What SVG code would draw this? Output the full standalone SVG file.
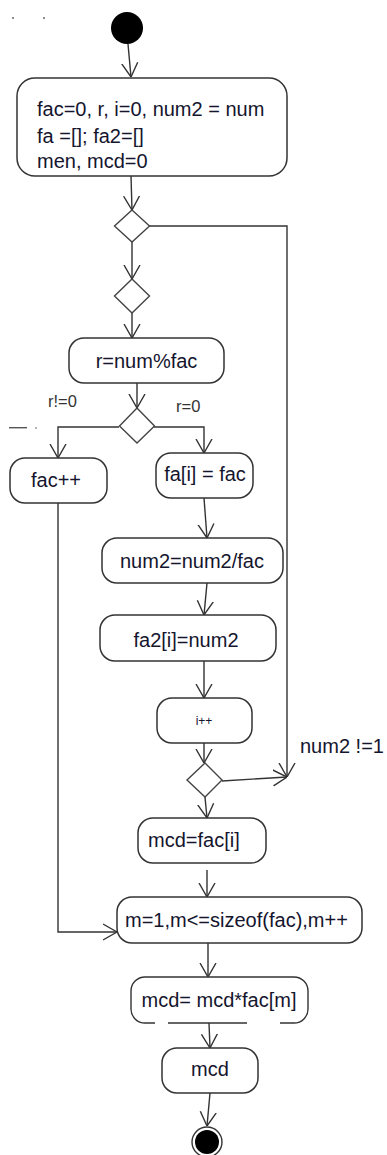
<svg xmlns="http://www.w3.org/2000/svg" width="387" height="1155" viewBox="0 0 387 1155">
  <style>
    .box { fill: #fff; stroke: #333; stroke-width: 1.5; }
    .dia { fill: #fff; stroke: #444; stroke-width: 1.4; }
    .edge { fill: none; stroke: #333; stroke-width: 1.4; marker-end: url(#vee); }
    .line { fill: none; stroke: #333; stroke-width: 1.4; }
    .t { font-family: "Liberation Sans", Arial, sans-serif; font-size: 20px; fill: #15152e; }
    .s { font-size: 12px; }
    .g { font-family: "Liberation Sans", Arial, sans-serif; font-size: 16.5px; fill: #333; }
  </style>
  <defs>
    <marker id="vee" viewBox="0 0 14 18" refX="14" refY="9" markerWidth="14" markerHeight="18" markerUnits="userSpaceOnUse" orient="auto">
      <path d="M0,1 L14,9 L0,17" fill="none" stroke="#333" stroke-width="1.4"/>
    </marker>
  </defs>
  <rect width="387" height="1155" fill="#fff"/>

  <!-- stray marks -->
  <g id="marks" fill="#555">
    <circle cx="13" cy="18" r="0.9"/>
    <circle cx="44" cy="18" r="0.9"/>
    <rect x="9" y="427" width="18" height="1.4"/>
    <circle cx="36" cy="428" r="0.8"/>
  </g>

  <!-- connectors -->
  <g id="connectors">
    <path class="edge" d="M128 44 L131 77"/>
    <path class="edge" d="M131 176 L132 210"/>
    <path class="edge" d="M132 242 L132 279"/>
    <path class="edge" d="M132 313 L132 338"/>
    <path class="edge" d="M137 383 L137 408"/>
    <path class="edge" d="M119 427 H58 V458"/>
    <path class="edge" d="M154 427 H204 V453"/>
    <path class="edge" d="M204 498 L207 538"/>
    <path class="edge" d="M207 583 L204 615"/>
    <path class="edge" d="M204 661 V698"/>
    <path class="edge" d="M204 743 V763"/>
    <path class="edge" d="M149 226 H287 V777"/>
    <path class="edge" d="M222 781 L287 777"/>
    <path class="edge" d="M205 797 L207 818"/>
    <path class="edge" d="M207 870 V897"/>
    <path class="edge" d="M58 503 V932 H117"/>
    <path class="edge" d="M208 943 V977"/>
    <path class="edge" d="M209 1023 L210 1048"/>
    <path class="edge" d="M210 1093 L207 1126"/>
    <text class="g" x="48" y="407">r!=0</text>
    <text class="g" x="176" y="412">r=0</text>
    <text class="t" x="300" y="753">num2 !=1</text>
  </g>

  <g id="start">
    <circle cx="127" cy="28" r="16" fill="#000"/>
  </g>

  <g id="init">
    <rect class="box" x="17" y="78" width="270" height="98" rx="18"/>
    <text class="t" x="37" y="116">fac=0, r, i=0, num2 = num</text>
    <text class="t" x="37" y="143">fa =[]; fa2=[]</text>
    <text class="t" x="37" y="168">men, mcd=0</text>
  </g>

  <g id="decision1">
    <polygon class="dia" points="132,210 149.5,226 132,242 114.5,226"/>
  </g>
  <g id="decision2">
    <polygon class="dia" points="132,279 149.5,296 132,313 114.5,296"/>
  </g>

  <g id="remainder">
    <rect class="box" x="69" y="338" width="155" height="45" rx="15"/>
    <text class="t" x="146.5" y="368" text-anchor="middle">r=num%fac</text>
  </g>

  <g id="decision3">
    <polygon class="dia" points="137,408 154.5,426 137,443 119.5,426"/>
  </g>

  <g id="incFac">
    <rect class="box" x="10" y="458" width="97" height="45" rx="15"/>
    <text class="t" x="56" y="487" text-anchor="middle">fac++</text>
  </g>

  <g id="storeFac">
    <rect class="box" x="156" y="453" width="97" height="45" rx="15"/>
    <text class="t" x="205" y="481" text-anchor="middle">fa[i] = fac</text>
  </g>

  <g id="divide">
    <rect class="box" x="102" y="538" width="181" height="45" rx="15"/>
    <text class="t" x="192" y="568" text-anchor="middle">num2=num2/fac</text>
  </g>

  <g id="storeNum2">
    <rect class="box" x="100" y="615" width="176" height="46" rx="15"/>
    <text class="t" x="186" y="647" text-anchor="middle">fa2[i]=num2</text>
  </g>

  <g id="incI">
    <rect class="box" x="157" y="698" width="95" height="45" rx="15"/>
    <text class="t s" x="204" y="725" text-anchor="middle">i++</text>
  </g>

  <g id="decision4">
    <polygon class="dia" points="205,763 222,780 205,797 187,780"/>
  </g>

  <g id="mcdInit">
    <rect class="box" x="138" y="818" width="128" height="45" rx="15"/>
    <text class="t" x="148" y="847">mcd=fac[i]</text>
  </g>

  <g id="loop">
    <rect class="box" x="117" y="897" width="245" height="46" rx="15"/>
    <text class="t" x="125" y="927">m=1,m&lt;=sizeof(fac),m++</text>
  </g>

  <g id="multiply">
    <rect x="131" y="977" width="177" height="46" rx="14" fill="#fff"/>
    <path class="line" d="M168 1023 H247 M280 1023 H294 A14 14 0 0 0 308 1009 V991 A14 14 0 0 0 294 977 H145 A14 14 0 0 0 131 991 V1009 A14 14 0 0 0 145 1023 H155"/>
    <text class="t" x="219" y="1007" text-anchor="middle">mcd= mcd*fac[m]</text>
  </g>

  <g id="result">
    <rect class="box" x="162" y="1048" width="96" height="45" rx="15"/>
    <text class="t" x="210" y="1076" text-anchor="middle">mcd</text>
  </g>

  <g id="end">
    <circle cx="207" cy="1142" r="15" fill="#fff" stroke="#333" stroke-width="1.4"/>
    <circle cx="207" cy="1142" r="12" fill="#000"/>
  </g>
</svg>
